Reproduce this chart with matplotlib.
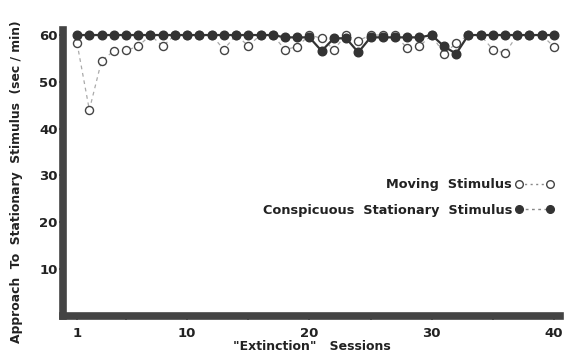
import matplotlib
matplotlib.use("Agg")
import matplotlib.pyplot as plt
from matplotlib.lines import Line2D

sessions = list(range(1, 41))
moving = [58.2, 44.0, 54.5, 56.6, 56.7, 57.6, 60, 57.6, 60, 60,
          60, 60, 56.9, 60, 57.7, 60, 60, 56.9, 57.5, 60,
          59.3, 56.9, 60, 58.8, 60, 60, 60, 57.2, 57.6, 60,
          56.0, 58.2, 60, 60, 56.9, 56.1, 60, 60, 60, 57.5]
stationary = [60, 60, 60, 60, 60, 60, 60, 60, 60, 60,
              60, 60, 60, 60, 60, 60, 60, 59.5, 59.5, 59.5,
              56.6, 59.3, 59.3, 56.3, 59.5, 59.5, 59.5, 59.5, 59.5, 60,
              57.6, 56.0, 60, 60, 60, 60, 60, 60, 60, 60]
xticks = [1, 5, 10, 15, 20, 25, 30, 35, 40]
xticklabels = ["1", "", "10", "", "20", "", "30", "", "40"]
yticks = [10, 20, 30, 40, 50, 60]

dark = "#333333"
plt.rcParams['font.family'] = ['DejaVu Sans']
fig = plt.figure(figsize=(5.68, 3.57), dpi=100)
ax = fig.add_axes([0.111, 0.115, 0.875, 0.80])

ax.plot(sessions, moving, linestyle=(0, (3, 3)), color="#aaaaaa", linewidth=0.9,
        marker="o", markersize=5.8, markerfacecolor="white",
        markeredgecolor="#444444", markeredgewidth=1.0, zorder=2)
ax.plot(sessions, stationary, linestyle="-", color=dark, linewidth=1.6,
        marker="o", markersize=6.2, markerfacecolor=dark,
        markeredgecolor=dark, zorder=3)

ax.set_xlim(-0.15, 40.5)
ax.set_ylim(0, 61)
ax.set_xticks(xticks)
ax.set_xticklabels(xticklabels)
ax.set_yticks(yticks)
for s in ["top", "right"]:
    ax.spines[s].set_visible(False)
for s in ["left", "bottom"]:
    ax.spines[s].set_linewidth(5.5)
    ax.spines[s].set_color("#444444")
ax.tick_params(axis="both", direction="out", length=3, width=1.2, colors=dark,
               labelsize=9.5, pad=1)
ax.tick_params(axis="x", pad=5)
for lab in ax.get_xticklabels() + ax.get_yticklabels():
    lab.set_fontweight("bold")
    lab.set_color("#222222")

ax.set_xlabel('"Extinction"   Sessions', fontsize=9, fontweight="bold",
              color="#222222", labelpad=0)
ax.set_ylabel("Approach  To  Stationary  Stimulus  (sec / min)", fontsize=8.9,
              fontweight="bold", color="#222222", labelpad=0)
ax.yaxis.set_label_coords(-0.08, 0.47)

h1 = Line2D([], [], linestyle=(0, (1.5, 2.5)), color="#888888", linewidth=1,
            marker="o", markersize=5.5, markerfacecolor="white",
            markeredgecolor="#444444")
h2 = Line2D([], [], linestyle=(0, (2, 2.5)), color="#888888", linewidth=1,
            marker="o", markersize=5.5, markerfacecolor=dark,
            markeredgecolor=dark)
leg = ax.legend([h1, h2], ["Moving  Stimulus", "Conspicuous  Stationary  Stimulus"],
                markerfirst=False, numpoints=2, handlelength=3.0, handletextpad=0.2,
                frameon=False, loc="center right", bbox_to_anchor=(1.01, 0.415),
                labelspacing=0.95, prop={"weight": "bold", "size": 9.3})
for t in leg.get_texts():
    t.set_color("#222222")
leg._legend_box.align = "right"

fig.savefig("out.png", dpi=100)
